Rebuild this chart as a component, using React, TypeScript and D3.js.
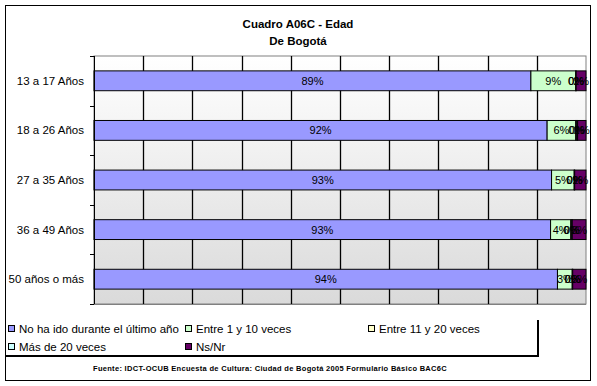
import { useMemo } from "react";
import * as d3 from "d3";

const categories = ["13 a 17 Años", "18 a 26 Años", "27 a 35 Años", "36 a 49 Años", "50 años o más"];
const seriesNames = [
  "No ha ido durante el último año",
  "Entre 1 y  10 veces",
  "Entre 11 y  20 veces",
  "Más de 20 veces",
  "Ns/Nr",
];
const noHaIdo = [88.8, 92.1, 93.0, 92.8, 94.2];
const entre1y10 = [9.1, 5.8, 4.6, 4.1, 3.0];
const entre11y20 = [0.1, 0.2, 0.1, 0.2, 0.1];
const masDe20 = [0.0, 0.2, 0.0, 0.1, 0.0];
const nsNr = [2.0, 1.7, 2.3, 2.8, 2.7];
const colors = ["#9999FF", "#CCFFCC", "#FFFFCC", "#CCFFFF", "#660066"];
const xTicks = [0, 10, 20, 30, 40, 50, 60, 70, 80, 90, 100];

const W = 597;
const H = 386;
const plot = { left: 94, right: 586, top: 56, bottom: 304 };
const font = "Arial, 'Liberation Sans', sans-serif";

export default function App() {
  const rows = useMemo(
    () =>
      categories.map((c, i) => ({
        cat: c,
        s0: noHaIdo[i],
        s1: entre1y10[i],
        s2: entre11y20[i],
        s3: masDe20[i],
        s4: nsNr[i],
      })),
    [],
  );
  const keys = ["s0", "s1", "s2", "s3", "s4"];
  const stacked = d3.stack<any>().keys(keys)(rows);

  const x = d3.scaleLinear().domain([0, 100]).range([plot.left, plot.right]);
  const y = d3
    .scaleBand()
    .domain(categories)
    .range([plot.top, plot.bottom])
    .paddingInner(0.6)
    .paddingOuter(0.3);
  const bandStep = (plot.bottom - plot.top) / categories.length;
  const boundaries = d3.range(categories.length + 1).map((i) => plot.top + i * bandStep);

  const legendItems = [
    { x: 8, y: 329 },
    { x: 185, y: 329 },
    { x: 368, y: 329 },
    { x: 8, y: 347 },
    { x: 185, y: 347 },
  ];

  return (
    <svg
      width={W}
      height={H}
      style={{ position: "absolute", left: 0, top: 0, background: "#fff" }}
      fontFamily={font}
    >
      <defs>
        <linearGradient id="bg" x1="0" y1="0" x2="0" y2="1">
          <stop offset="0%" stopColor="#ffffff" />
          <stop offset="100%" stopColor="#dadada" />
        </linearGradient>
      </defs>
      {/* outer frame */}
      <rect x={5.5} y={5.5} width={585} height={375} fill="#fff" stroke="#000" strokeWidth={1} />

      {/* title */}
      <text x={298} y={28} textAnchor="middle" fontSize={11.5} fontWeight="bold">
        Cuadro A06C - Edad
      </text>
      <text x={298} y={45} textAnchor="middle" fontSize={11.5} fontWeight="bold">
        De Bogotá
      </text>

      {/* plot background */}
      <rect
        x={plot.left}
        y={plot.top}
        width={plot.right - plot.left}
        height={plot.bottom - plot.top}
        fill="url(#bg)"
        stroke="#808080"
      />

      {/* vertical grid */}
      {xTicks.slice(1, -1).map((t) => (
        <line
          key={t}
          x1={Math.round(x(t)) + 0.5}
          x2={Math.round(x(t)) + 0.5}
          y1={plot.top}
          y2={plot.bottom}
          stroke="#000"
          strokeWidth={1.3}
        />
      ))}

      {/* bars */}
      {stacked.map((layer, si) => (
        <g key={si}>
          {layer.map((d, i) => (
            <rect
              key={i}
              x={x(d[0])}
              y={y(categories[i])!}
              width={Math.max(0, x(d[1]) - x(d[0]))}
              height={y.bandwidth()}
              fill={colors[si]}
              stroke="#000"
              strokeWidth={1}
            />
          ))}
        </g>
      ))}

      {/* labels */}
      {stacked.map((layer, si) => (
        <g key={"l" + si} fontSize={11} fill="#000">
          {layer.map((d, i) => (
            <text
              key={i}
              x={(x(d[0]) + x(d[1])) / 2}
              y={y(categories[i])! + y.bandwidth() / 2 + 4}
              textAnchor="middle"
            >
              {d3.format(".0f")(d[1] - d[0]) + "%"}
            </text>
          ))}
        </g>
      ))}

      {/* y axis */}
      <line x1={plot.left + 0.5} x2={plot.left + 0.5} y1={plot.top} y2={plot.bottom} stroke="#000" />
      {boundaries.map((b, i) => (
        <line key={i} x1={plot.left - 4} x2={plot.left} y1={Math.round(b) + 0.5} y2={Math.round(b) + 0.5} stroke="#000" />
      ))}
      <line x1={plot.left} x2={plot.right} y1={plot.bottom + 0.5} y2={plot.bottom + 0.5} stroke="#808080" />
      {categories.map((c) => (
        <text
          key={c}
          x={84}
          y={y(c)! + y.bandwidth() / 2 + 4}
          textAnchor="end"
          fontSize={11.5}
        >
          {c}
        </text>
      ))}

      {/* legend */}
      <line x1={6} x2={539} y1={356} y2={356} stroke="#000" strokeWidth={2} />
      <line x1={538} x2={538} y1={320} y2={357} stroke="#000" strokeWidth={2} />
      {seriesNames.map((n, i) => (
        <g key={n} transform={`translate(${legendItems[i].x},${legendItems[i].y})`}>
          <rect x={0.5} y={-3.5} width={6} height={6} fill={colors[i]} stroke="#000" />
          <text x={11} y={4} fontSize={11.5}>
            {n}
          </text>
        </g>
      ))}

      {/* source */}
      <text x={270} y={371} textAnchor="middle" fontSize={7.5} fontWeight="bold" letterSpacing={0.3}>
        Fuente: IDCT-OCUB Encuesta de Cultura: Ciudad de Bogotá 2005 Formulario Básico BAC6C
      </text>
    </svg>
  );
}
